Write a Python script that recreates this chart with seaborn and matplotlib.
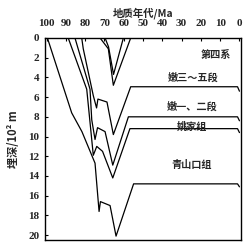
import numpy as np
import pandas as pd
import matplotlib
matplotlib.use("Agg")
import matplotlib.pyplot as plt
import seaborn as sns

# ---- data (age in Ma, burial depth in 10^2 m) ----
h1_age   = [99.6, 87.0, 81.7, 74.9, 72.8, 72.1, 67.1, 64.0, 54.9, 1.0, 0.0]
h1_depth = [0.0, 7.6, 9.5, 12.7, 17.6, 16.6, 17.0, 20.1, 14.8, 14.8, 15.1]

h2_age   = [88.8, 79.2, 75.8, 74.0, 71.0, 65.7, 56.8, 1.0, 0.0]
h2_depth = [0.0, 5.2, 11.9, 11.0, 11.5, 14.2, 9.2, 9.2, 9.6]

h3_age   = [85.3, 77.5, 76.6, 74.9, 73.6, 69.7, 65.7, 57.6, 1.0, 0.0]
h3_depth = [0.0, 5.2, 8.3, 10.3, 9.1, 9.5, 12.9, 8.0, 8.0, 8.4]

h4_age   = [81.8, 81.0, 75.8, 74.1, 73.4, 68.7, 65.4, 56.4, 1.0, 0.0]
h4_depth = [0.0, 1.1, 5.85, 7.1, 6.2, 6.5, 9.8, 4.95, 4.95, 5.4]

h5_age   = [72.3, 68.0, 65.4, 56.4]
h5_depth = [0.0, 1.1, 4.8, 0.0]

h6_age   = [69.7, 67.9, 65.3, 60.2]
h6_depth = [0.0, 0.9, 3.7, 0.0]

unit_names = ["第四系", "嫩三～五段", "嫩一、二段", "姚家组", "青山口组"]
unit_age   = [12.1, 24.0, 24.6, 24.6, 24.8]
unit_depth = [1.68, 4.0, 6.97, 8.97, 12.9]

x_ticks = [100, 90, 80, 70, 60, 50, 40, 30, 20, 10, 0]
y_ticks = [0, 2, 4, 6, 8, 10, 12, 14, 16, 18, 20]

series = {"h1": (h1_age, h1_depth), "h2": (h2_age, h2_depth),
          "h3": (h3_age, h3_depth), "h4": (h4_age, h4_depth),
          "h5": (h5_age, h5_depth), "h6": (h6_age, h6_depth)}
rows = []
for name, (a, d) in series.items():
    for i, (ai, di) in enumerate(zip(a, d)):
        rows.append({"horizon": name, "order": i, "age": ai, "depth": di})
df = pd.DataFrame(rows)

sns.set_theme(style="white")
plt.rcParams["font.family"] = ["Noto Sans CJK SC", "DejaVu Sans"]
cjk = ["Noto Sans CJK SC", "DejaVu Sans"]

fig = plt.figure(figsize=(2.48, 2.48), dpi=100)
ax = fig.add_axes([0.181, 0.032, 0.79, 0.815])

sns.lineplot(data=df, x="age", y="depth", units="horizon", estimator=None,
             sort=False, color="black", linewidth=0.9, ax=ax, legend=False)

ax.set_xlim(100.9, -0.7)
ax.set_ylim(20.5, 0)
ax.xaxis.tick_top()
ax.xaxis.set_label_position("top")
ax.set_xticks(x_ticks)
ax.set_yticks(y_ticks)
tick_font = {"family": "Liberation Serif", "weight": "bold", "size": 8.0}
ax.set_xticklabels([str(t) for t in x_ticks], fontdict=tick_font)
ax.set_yticklabels([str(t) for t in y_ticks], fontdict=tick_font)
ax.tick_params(axis="both", direction="in", length=2.5, width=0.8,
               color="black", top=True, bottom=False, left=True, right=False)
ax.tick_params(axis="x", pad=7)
ax.tick_params(axis="y", pad=4)
for s in ax.spines.values():
    s.set_color("black")
    s.set_linewidth(1.0)

ax.set_xlabel("地质年代/Ma", fontsize=7.5, fontweight="bold", family=cjk, labelpad=2)
ax.set_ylabel("埋深/10² m", fontsize=8.0, fontweight="bold", family=cjk, labelpad=6)

for name, a, d in zip(unit_names, unit_age, unit_depth):
    ax.text(a, d, name, ha="center", va="center", fontsize=7.3,
            fontweight="bold", family=cjk)

ax.grid(False)
fig.savefig("out.png", dpi=100, facecolor="white")
